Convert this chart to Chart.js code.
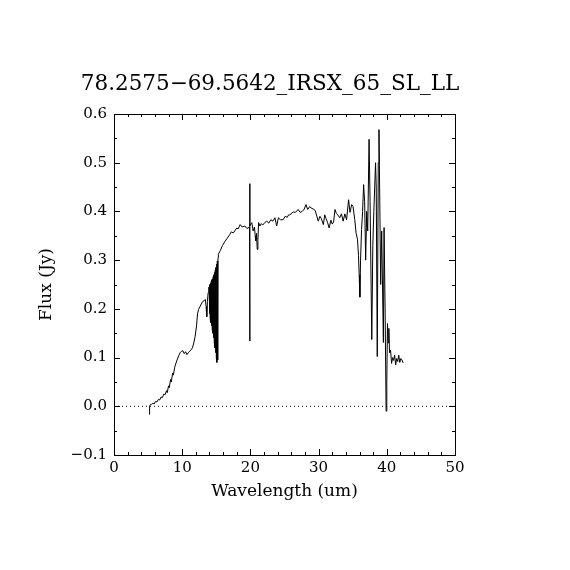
<!DOCTYPE html>
<html>
<head>
<meta charset="utf-8">
<script src="https://cdn.jsdelivr.net/npm/chart.js@4.4.0/dist/chart.umd.min.js"></script>
<style>
  body { margin: 0; background: #fff; }
  canvas { display: block; }
</style>
</head>
<body>
<canvas id="chart" width="570" height="570"></canvas>
<script>
const title = "78.2575\u221269.5642_IRSX_65_SL_LL";

// spectrum (um, Jy)
const wavelength = [
  5.20, 5.22, 5.30, 5.50, 5.70, 5.90, 6.10, 6.30, 6.50, 6.70, 6.90, 7.10, 7.30, 7.50, 7.70, 7.80,
  8.00, 8.10, 8.30, 8.40, 8.60, 8.70, 8.90, 9.10, 9.30, 9.50, 9.70, 9.90, 10.10, 10.30, 10.50,
  10.70, 10.90, 11.10, 11.30, 11.50, 11.70, 11.90, 12.10, 12.25, 12.40, 12.60, 12.80, 13.00,
  13.20, 13.40, 13.50, 13.60, 13.70, 13.80, 13.90,
  13.95, 14.00, 14.05, 14.10, 14.15, 14.20, 14.25, 14.30, 14.35, 14.40, 14.45, 14.50, 14.55,
  14.60, 14.65, 14.70, 14.75, 14.80, 14.85, 14.90, 14.95, 15.00, 15.05, 15.10, 15.15, 15.20, 15.25,
  15.30, 15.60, 15.90, 16.30, 16.60, 17.00, 17.20, 17.50, 17.80, 18.00, 18.20, 18.50, 18.80,
  19.20, 19.50, 19.88, 19.92, 19.92, 19.92, 19.96, 20.20, 20.40, 20.60, 20.70, 20.80, 20.90, 21.00,
  21.10, 21.20, 21.40, 21.60, 21.80, 22.10, 22.40, 22.70, 23.00, 23.30, 23.60, 23.85, 24.10,
  24.40, 24.80, 25.10, 25.40, 25.60, 25.80, 26.10, 26.30, 26.60, 27.00, 27.30, 27.60, 27.90,
  28.15, 28.40, 28.70, 28.90, 29.20, 29.50, 29.95, 30.20, 30.40, 30.70, 30.90, 31.10, 31.30,
  31.55, 31.80, 32.00, 32.20, 32.40, 32.60, 32.80, 33.10, 33.35, 33.60, 33.85, 34.10, 34.40,
  34.60, 34.85, 35.05, 35.30, 35.50, 35.70, 35.85, 35.95, 36.05, 36.15, 36.30, 36.45, 36.60,
  36.75, 36.90, 37.05, 37.20, 37.40, 37.55, 37.80, 37.95, 38.10, 38.35, 38.45, 38.60, 38.75,
  38.85, 38.95, 39.10, 39.25, 39.50, 39.60, 39.75, 39.90, 40.00, 40.10, 40.20, 40.30, 40.40,
  40.55, 40.70, 40.85, 41.00, 41.15, 41.30, 41.45, 41.60, 41.75, 41.90, 42.05, 42.20, 42.40
];
const flux = [
  -0.017, 0.000, 0.003, 0.004, 0.006, 0.005, 0.010, 0.009, 0.014, 0.013, 0.019, 0.018, 0.025, 0.024, 0.032, 0.028,
  0.042, 0.038, 0.055, 0.050, 0.068, 0.064, 0.080, 0.089, 0.097, 0.104, 0.110, 0.113, 0.114, 0.108, 0.112,
  0.106, 0.110, 0.113, 0.116, 0.120, 0.130, 0.144, 0.165, 0.190, 0.199, 0.204, 0.210, 0.215,
  0.217, 0.219, 0.205, 0.184, 0.215, 0.233, 0.244,
  0.245, 0.190, 0.250, 0.180, 0.252, 0.172, 0.256, 0.165, 0.260, 0.158, 0.262, 0.150, 0.266,
  0.140, 0.270, 0.130, 0.275, 0.120, 0.280, 0.110, 0.285, 0.100, 0.292, 0.090, 0.298, 0.095, 0.305,
  0.312, 0.320, 0.330, 0.339, 0.345, 0.353, 0.358, 0.356, 0.362, 0.366, 0.364, 0.373, 0.368,
  0.370, 0.365, 0.368, 0.457, 0.134, 0.370, 0.372, 0.377, 0.360, 0.368, 0.350, 0.340, 0.355, 0.322,
  0.340, 0.377, 0.370, 0.375, 0.372, 0.377, 0.380, 0.376, 0.383, 0.380, 0.387, 0.370, 0.387,
  0.383, 0.383, 0.390, 0.388, 0.393, 0.393, 0.397, 0.399, 0.398, 0.404, 0.398, 0.400, 0.405,
  0.414, 0.404, 0.410, 0.407, 0.405, 0.402, 0.380, 0.390, 0.385, 0.373, 0.393, 0.385, 0.378,
  0.366, 0.382, 0.374, 0.378, 0.404, 0.396, 0.393, 0.387, 0.395, 0.380, 0.395, 0.383, 0.424,
  0.398, 0.414, 0.410, 0.383, 0.355, 0.343, 0.310, 0.270, 0.224, 0.300, 0.363, 0.400, 0.455,
  0.420, 0.300, 0.400, 0.360, 0.548, 0.420, 0.137, 0.330, 0.400, 0.500, 0.450, 0.102, 0.500,
  0.568, 0.450, 0.250, 0.360, 0.131, 0.367, 0.200, -0.010, 0.050, 0.170, 0.130, 0.160, 0.110,
  0.115, 0.088, 0.100, 0.094, 0.105, 0.085, 0.098, 0.092, 0.105, 0.090, 0.098, 0.096, 0.089
];

const xRange = [0, 50];
const yRange = [-0.1, 0.6];

const serif = "'DejaVu Serif', serif";

// box, inward ticks on all four sides, and the title
const frame = {
  id: 'frame',
  afterDraw(chart) {
    const { ctx, chartArea: a, scales: { x, y } } = chart;
    ctx.save();
    ctx.strokeStyle = '#000';
    ctx.lineWidth = 1;
    ctx.strokeRect(a.left + 0.5, a.top + 0.5, a.right - a.left, a.bottom - a.top);

    ctx.beginPath();
    for (let i = 0; i <= 25; i++) {
      const px = Math.round(x.getPixelForValue(i * 2)) + 0.5;
      const len = i % 5 === 0 ? 6 : 3;
      ctx.moveTo(px, a.bottom);
      ctx.lineTo(px, a.bottom - len);
      ctx.moveTo(px, a.top);
      ctx.lineTo(px, a.top + len);
    }
    for (let i = 0; i <= 14; i++) {
      const py = Math.round(y.getPixelForValue(-0.1 + i * 0.05)) + 0.5;
      const len = i % 2 === 0 ? 6 : 3;
      ctx.moveTo(a.left, py);
      ctx.lineTo(a.left + len, py);
      ctx.moveTo(a.right, py);
      ctx.lineTo(a.right - len, py);
    }
    ctx.stroke();

    ctx.fillStyle = '#000';
    ctx.font = "21.5px " + serif;
    ctx.textAlign = 'center';
    ctx.textBaseline = 'middle';
    ctx.fillText(title, 270, 84);
    ctx.restore();
  }
};

new Chart(document.getElementById('chart'), {
  type: 'line',
  data: {
    datasets: [
      {
        data: wavelength.map((w, i) => ({ x: w, y: flux[i] })),
        borderColor: '#000',
        borderWidth: 1,
        pointRadius: 0,
        tension: 0
      },
      {
        data: [{ x: xRange[0], y: 0 }, { x: xRange[1], y: 0 }],
        borderColor: '#000',
        borderWidth: 1,
        borderDash: [1, 3],
        pointRadius: 0
      }
    ]
  },
  options: {
    responsive: false,
    animation: false,
    devicePixelRatio: 1,
    layout: { padding: { top: 114, right: 115, left: 0, bottom: 0 } },
    plugins: { legend: { display: false }, tooltip: { enabled: false } },
    scales: {
      x: {
        type: 'linear',
        min: xRange[0],
        max: xRange[1],
        afterFit(s) { s.height = 115; },
        grid: { display: false, drawTicks: false },
        border: { display: false },
        ticks: {
          stepSize: 10,
          padding: 4,
          color: '#000',
          font: { family: serif, size: 15 },
          maxRotation: 0
        },
        title: {
          display: true,
          text: 'Wavelength (um)',
          color: '#000',
          font: { family: serif, size: 17 },
          padding: { bottom: 68 }
        }
      },
      y: {
        min: yRange[0],
        max: yRange[1],
        afterFit(s) { s.width = 114; },
        grid: { display: false, drawTicks: false },
        border: { display: false },
        ticks: {
          stepSize: 0.1,
          padding: 7,
          color: '#000',
          font: { family: serif, size: 15 },
          callback: v => (Math.abs(v) < 1e-9 ? 0 : v).toFixed(1).replace('-', '\u2212')
        },
        title: {
          display: true,
          text: 'Flux (Jy)',
          color: '#000',
          font: { family: serif, size: 17 },
          padding: { top: 36 }
        }
      }
    }
  },
  plugins: [frame]
});
</script>
</body>
</html>
